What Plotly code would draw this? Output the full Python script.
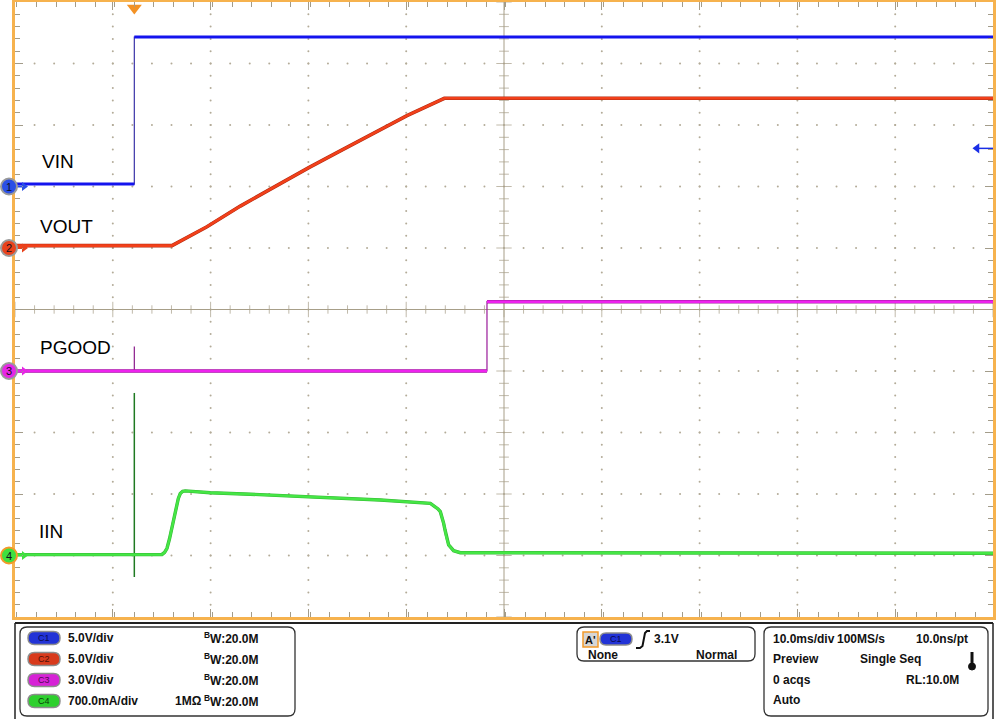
import plotly.graph_objects as go

# ---------------- data ----------------
T_START, T_END = -12.2, 87.8          # ms (10 ms/div, trigger at 0)
ch_scale = [5.0, 5.0, 3.0, 700.0]     # per division: V, V, V, mA
ch_offset = [2.0, 1.0, -1.0, -4.0]    # ground position in divisions
ch_labels = ["VIN", "VOUT", "PGOOD", "IIN"]

vin_t = [-12.2, 0.0, 0.0, 87.8]
vin_v = [0.20, 0.20, 12.15, 12.15]

vout_t = [-12.2, 3.85, 7.43, 10.84, 14.24, 17.89, 21.06, 24.47, 27.88, 31.70, 87.8]
vout_v = [0.19, 0.19, 1.73, 3.41, 4.93, 6.56, 7.89, 9.33, 10.76, 12.17, 12.17]

pg_t = [-12.2, 36.06, 36.06, 87.8]
pg_v = [0.0, 0.0, 3.38, 3.38]
pg_spike_t = [0.0, 0.0]
pg_spike_v = [0.0, 1.19]

iin_t = [-12.2, 2.83, 3.10, 3.34, 3.60, 3.85, 4.07, 4.29, 4.50, 4.70, 4.95, 5.21, 7.77, 11.86,
         16.97, 25.15, 30.27, 30.78, 31.05, 31.29, 31.46, 31.63, 31.77, 31.90, 32.14, 32.65, 33.33, 87.8]
iin_ma = [10, 12, 35, 82, 190, 328, 445, 555, 650, 705, 730, 736, 715, 697,
          672, 632, 594, 555, 530, 499, 440, 366, 290, 214, 120, 55, 32, 25]
iin_spike_t = [0.0, 0.0]
iin_spike_ma = [1850, -245]

trig_level_v = 3.1

# ---------------- helpers ----------------
ORANGE = "#f6b24e"
GRIDC = "#b3ab98"
AXC = "#a79e88"
L, W, B, H = 15, 978, 617, 615   # plot area in pixels


def to_div(vals, ch):
    return [ch_offset[ch] + v / ch_scale[ch] for v in vals]


def split_steps(t, y):
    tt, yy = [t[0]], [y[0]]
    for i in range(1, len(t)):
        if t[i] == t[i - 1]:
            tt.append(None)
            yy.append(None)
        tt.append(t[i])
        yy.append(y[i])
    return tt, yy


def px(x):
    return (x - L) / W


def py(y):
    return (B - y) / H


def t_of_px(x):
    return T_START + (x - L) / W * (T_END - T_START)


def rrect(x0, y0, x1, y1, r):
    p = lambda x, y: f"{px(x):.5f},{py(y):.5f}"
    return (f"M {p(x0 + r, y0)} L {p(x1 - r, y0)} Q {p(x1, y0)} {p(x1, y0 + r)} "
            f"L {p(x1, y1 - r)} Q {p(x1, y1)} {p(x1 - r, y1)} L {p(x0 + r, y1)} "
            f"Q {p(x0, y1)} {p(x0, y1 - r)} L {p(x0, y0 + r)} Q {p(x0, y0)} {p(x0 + r, y0)} Z")


fig = go.Figure()
ann = []
shapes = []

# ---------------- graticule ----------------
xmaj = [T_START + 10 * k for k in range(11)]
xmin = [T_START + 2 * m for m in range(51)]
ymaj = list(range(-5, 6))
ymin = [-5 + 0.2 * m for m in range(51)]
gx, gy = [], []
for k in range(1, 10):
    if k == 5:
        continue
    for yv in ymin[1:-1]:
        gx.append(xmaj[k]); gy.append(yv)
for j in ymaj[1:-1]:
    if j == 0:
        continue
    for xv in xmin[1:-1]:
        gx.append(xv); gy.append(j)
fig.add_trace(go.Scatter(x=gx, y=gy, mode="markers", hoverinfo="skip",
                         marker=dict(size=2, color=GRIDC, line=dict(width=0))))

xc = xmaj[5]
shapes.append(dict(type="line", xref="x", yref="y", x0=xc, x1=xc, y0=-5, y1=5,
                   line=dict(color=AXC, width=1), layer="below"))
shapes.append(dict(type="line", xref="x", yref="y", x0=T_START, x1=T_END, y0=0, y1=0,
                   line=dict(color=AXC, width=1), layer="below"))
fig.add_trace(go.Scatter(x=xmin, y=[0] * len(xmin), mode="markers", hoverinfo="skip",
                         marker=dict(symbol="line-ns", size=[11 if i % 5 == 0 else 6 for i in range(len(xmin))],
                                     line=dict(color=AXC, width=1))))
fig.add_trace(go.Scatter(x=[xc] * len(ymin), y=ymin, mode="markers", hoverinfo="skip",
                         marker=dict(symbol="line-ew", size=[11 if i % 5 == 0 else 7 for i in range(len(ymin))],
                                     line=dict(color=AXC, width=1))))

# ---------------- waveforms ----------------
def add_wave(t, y, color, thin_color, width, outline=None):
    fig.add_trace(go.Scatter(x=t, y=y, mode="lines", hoverinfo="skip",
                             line=dict(color=thin_color, width=1.2)))
    tt, yy = split_steps(t, y)
    if outline:
        fig.add_trace(go.Scatter(x=tt, y=yy, mode="lines", hoverinfo="skip", connectgaps=False,
                                 line=dict(color=outline, width=width + 1.0)))
    fig.add_trace(go.Scatter(x=tt, y=yy, mode="lines", hoverinfo="skip", connectgaps=False,
                             line=dict(color=color, width=width)))


fig.add_trace(go.Scatter(x=iin_spike_t, y=to_div(iin_spike_ma, 3), mode="lines", hoverinfo="skip",
                         line=dict(color="#1f7a22", width=1.5)))
add_wave(iin_t, to_div(iin_ma, 3), "#45e645", "#2aa62a", 2.4, outline="#34b834")
fig.add_trace(go.Scatter(x=pg_spike_t, y=to_div(pg_spike_v, 2), mode="lines", hoverinfo="skip",
                         line=dict(color="#8a1a8a", width=1.2)))
add_wave(pg_t, to_div(pg_v, 2), "#ee22ee", "#9a1a9a", 2.6, outline="#9a1a9a")
add_wave(vout_t, to_div(vout_v, 1), "#f2401a", "#a02010", 2.6, outline="#b02a12")
add_wave(vin_t, to_div(vin_v, 0), "#1414ee", "#3a34a8", 3.0)

# trigger position marker (top) and trigger level arrow (right)
fig.add_trace(go.Scatter(x=[0.0], y=[5 - 6 / 61.5], mode="markers", cliponaxis=False, hoverinfo="skip",
                         marker=dict(symbol="triangle-down", size=13, color="#f39225", line=dict(width=0))))
ytl = ch_offset[0] + trig_level_v / ch_scale[0]
fig.add_trace(go.Scatter(x=[t_of_px(976), T_END], y=[ytl, ytl], mode="lines", cliponaxis=False,
                         hoverinfo="skip", line=dict(color="#1a2ee6", width=1.5)))
fig.add_trace(go.Scatter(x=[t_of_px(977)], y=[ytl], mode="markers", cliponaxis=False, hoverinfo="skip",
                         marker=dict(symbol="triangle-left", size=9, color="#1a2ee6", line=dict(width=0))))

# ground markers (circles on the left edge + small arrows)
gcol = ["#2a4fe6", "#e8421c", "#e626e6", "#3fe03f"]
gline = ["#9a9a9a", "#9a9a9a", "#9a9a9a", "#f39a2a"]
for i in range(4):
    yv = ch_offset[i]
    ypix = B - (yv + 5) / 10 * H
    shapes.append(dict(type="line", xref="paper", yref="paper", x0=px(16), x1=px(22),
                       y0=py(ypix), y1=py(ypix), line=dict(color=gcol[i], width=2), layer="above"))
    shapes.append(dict(type="circle", xref="paper", yref="paper", x0=px(1), x1=px(17),
                       y0=py(ypix + 8), y1=py(ypix - 8), line=dict(color=gline[i], width=2),
                       fillcolor=gcol[i], layer="above"))
    ann.append(dict(x=px(9), y=py(ypix), xref="paper", yref="paper", text=str(i + 1), showarrow=False,
                    xanchor="center", yanchor="middle",
                    font=dict(size=11, color="#101020", family="Liberation Sans, Arial")))
    fig.add_trace(go.Scatter(x=[t_of_px(24)], y=[yv], mode="markers", cliponaxis=False, hoverinfo="skip",
                             marker=dict(symbol="triangle-right", size=8, color=gcol[i], line=dict(width=0))))

# ---------------- text labels ----------------
lab_pos = [(40, 161), (38, 226), (38, 347), (37, 531)]
for lab, (x, y) in zip(ch_labels, lab_pos):
    ann.append(dict(x=px(x), y=py(y), xref="paper", yref="paper", text=lab, showarrow=False,
                    xanchor="left", yanchor="middle",
                    font=dict(size=19, color="black", family="Liberation Sans, Arial")))

# bottom frame
shapes.append(dict(type="line", xref="paper", yref="paper", x0=px(15), x1=px(993), y0=py(623), y1=py(623),
                   line=dict(color="#222222", width=2)))
shapes.append(dict(type="line", xref="paper", yref="paper", x0=px(15), x1=px(15), y0=py(623), y1=py(719),
                   line=dict(color="#222222", width=1.5)))
shapes.append(dict(type="line", xref="paper", yref="paper", x0=px(993), x1=px(993), y0=py(623), y1=py(719),
                   line=dict(color="#222222", width=1.5)))
for (x0, y0, x1, y1) in [(20, 627, 295, 716), (577, 627, 755, 661), (764, 627, 988, 716)]:
    shapes.append(dict(type="path", xref="paper", yref="paper", path=rrect(x0, y0, x1, y1, 7),
                       line=dict(color="#333333", width=1.3), fillcolor="white"))

bold = dict(size=12, color="#111111", family="Liberation Sans, Arial")
pill_col = ["#2233d6", "#d83a1c", "#d622d6", "#2ed02e"]
pill_txt = ["#0a0a50", "#501008", "#500a50", "#0a400a"]
volts = ["5.0V/div", "5.0V/div", "3.0V/div", "700.0mA/div"]
rows = [638, 659, 680, 701]
for i in range(4):
    yc = rows[i]
    shapes.append(dict(type="path", xref="paper", yref="paper", path=rrect(28, yc - 6.5, 60, yc + 6.5, 6.5),
                       line=dict(color="#8c8c8c", width=1.5), fillcolor=pill_col[i]))
    ann.append(dict(x=px(44), y=py(yc), xref="paper", yref="paper", text=f"C{i + 1}", showarrow=False,
                    xanchor="center", yanchor="middle",
                    font=dict(size=9, color=pill_txt[i], family="Liberation Sans, Arial")))
    ann.append(dict(x=px(66), y=py(yc), xref="paper", yref="paper", text=f"<b>{volts[i]}</b>",
                    showarrow=False, xanchor="left", yanchor="middle", font=bold))
    ann.append(dict(x=px(261), y=py(yc), xref="paper", yref="paper",
                    text="<b><sup>B</sup>W:20.0M</b>", showarrow=False, xanchor="right",
                    yanchor="middle", font=bold))
ann.append(dict(x=px(204), y=py(rows[3]), xref="paper", yref="paper", text="<b>1MΩ</b>",
                showarrow=False, xanchor="right", yanchor="middle", font=bold))

# trigger box
shapes.append(dict(type="rect", xref="paper", yref="paper", x0=px(583), x1=px(598), y0=py(647), y1=py(632),
                   line=dict(color="#f39a2a", width=1.5), fillcolor="#d6d6d6"))
ann.append(dict(x=px(590.5), y=py(639.5), xref="paper", yref="paper", text="<b>A'</b>", showarrow=False,
                xanchor="center", yanchor="middle", font=dict(size=11, color="#111", family="Liberation Sans")))
shapes.append(dict(type="path", xref="paper", yref="paper", path=rrect(600, 633, 632, 645, 6),
                   line=dict(color="#8c8c8c", width=1.5), fillcolor=pill_col[0]))
ann.append(dict(x=px(616), y=py(639), xref="paper", yref="paper", text="C1", showarrow=False,
                xanchor="center", yanchor="middle", font=dict(size=9, color=pill_txt[0], family="Liberation Sans")))
ep = [(636, 648), (640, 648), (642.5, 646), (645, 633), (647, 631), (650, 631)]
shapes.append(dict(type="path", xref="paper", yref="paper",
                   path="M " + " L ".join(f"{px(a):.5f},{py(b):.5f}" for a, b in ep),
                   line=dict(color="#111", width=2)))
ann.append(dict(x=px(652), y=py(639), xref="paper", yref="paper", text="<b>3.1V</b>", showarrow=False,
                xanchor="left", yanchor="middle", font=bold))
ann.append(dict(x=px(586), y=py(655), xref="paper", yref="paper", text="<b>None</b>", showarrow=False,
                xanchor="left", yanchor="middle", font=bold))
ann.append(dict(x=px(739), y=py(655), xref="paper", yref="paper", text="<b>Normal</b>", showarrow=False,
                xanchor="right", yanchor="middle", font=bold))

# acquisition box
acq = [("10.0ms/div", 771, 639, "left"), ("100MS/s", 835, 639, "left"), ("10.0ns/pt", 970, 639, "right"),
       ("Preview", 771, 659, "left"), ("Single Seq", 858, 659, "left"), ("0 acqs", 771, 680, "left"),
       ("RL:10.0M", 961, 680, "right"), ("Auto", 771, 700, "left")]
for txt, x, y, anc in acq:
    ann.append(dict(x=px(x), y=py(y), xref="paper", yref="paper", text=f"<b>{txt}</b>", showarrow=False,
                    xanchor=anc, yanchor="middle", font=bold))
shapes.append(dict(type="line", xref="paper", yref="paper", x0=px(972), x1=px(972), y0=py(652), y1=py(665),
                   line=dict(color="#111", width=3)))
shapes.append(dict(type="circle", xref="paper", yref="paper", x0=px(968.5), x1=px(975.5), y0=py(663),
                   y1=py(670), line=dict(color="#111", width=1), fillcolor="#111"))

axis_common = dict(showgrid=False, zeroline=False, showticklabels=False, ticks="inside",
                   tickcolor="#a39c8a", tickwidth=1, showline=True, linecolor=ORANGE, linewidth=3,
                   mirror="ticks", fixedrange=True)
fig.update_layout(
    width=1000, height=719, autosize=False,
    margin=dict(l=L, r=1000 - L - W, t=B - H, b=719 - B, pad=0, autoexpand=False),
    paper_bgcolor="white", plot_bgcolor="white", showlegend=False,
    xaxis=dict(range=[T_START, T_END], tick0=T_START, dtick=10, ticklen=8,
               minor=dict(ticks="inside", dtick=2, ticklen=5, tickcolor="#a39c8a", tickwidth=1),
               **axis_common),
    yaxis=dict(range=[-5, 5], tick0=-5, dtick=1, ticklen=8,
               minor=dict(ticks="inside", dtick=0.2, ticklen=5, tickcolor="#a39c8a", tickwidth=1),
               **axis_common),
    annotations=ann, shapes=shapes,
)

fig.write_html("out.html", config={"displayModeBar": False},
               post_script="document.body.style.margin='0';document.body.style.overflow='hidden';")
